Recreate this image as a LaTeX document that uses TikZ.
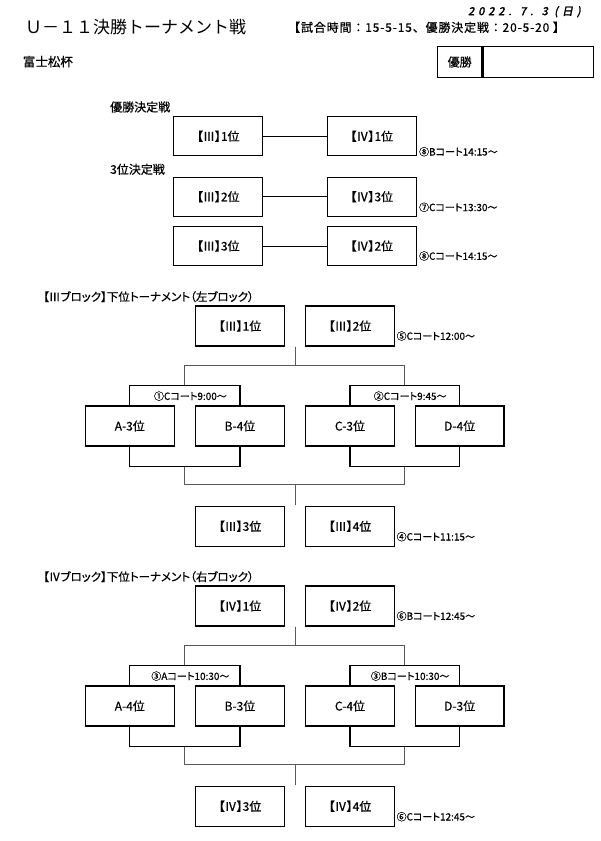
\documentclass[tikz,border=0pt]{standalone}
\usepackage{fontspec}
\setmainfont[RawFeature={+palt},FakeBold=0.6]{Noto Sans CJK JP}
\newfontfamily\jfull{Noto Sans CJK JP}
\newfontfamily\jsub[LetterSpace=7,FakeBold=0.5]{Noto Sans CJK JP}
\newfontfamily\datefont[FakeSlant=0.2,FakeBold=2.5,LetterSpace=36]{Noto Sans CJK JP}
\usetikzlibrary{calc}
\tikzset{
  box/.style={draw, line width=1.2pt, minimum width=88.6pt, minimum height=40pt, inner sep=0pt, font=\fontsize{12}{14}\selectfont},
  fbox/.style={box, minimum width=89pt, minimum height=39pt},
  br/.style={line width=1.2pt, draw=black},
  gl/.style={line width=0.9pt, draw=black!65},
  tl/.style={line width=0.9pt, draw=black},
  lbl/.style={anchor=west, inner sep=0pt, font=\fontsize{12}{14}\selectfont},
  court/.style={anchor=west, inner sep=0pt, font=\fontsize{10}{12}\selectfont}
}
\begin{document}
\begin{tikzpicture}[x=1pt,y=-1pt]
\fill[white] (0,0) rectangle (600,841);
\useasboundingbox (0,0) rectangle (600,841);
% header
\node[anchor=west, inner sep=0pt, font=\jfull\fontsize{17}{19}\selectfont] (title) at (25,27.3) {Ｕ－１１決勝トーナメント戦};
\node[anchor=west, inner sep=0pt, font=\jsub\fontsize{12}{14}\selectfont] (sub) at (288,27.3) {【試合時間：15-5-15、優勝決定戦：20-5-20 】};
\node[anchor=west, inner sep=0pt, font=\datefont\fontsize{11}{13}\selectfont] (date) at (468,11.7) {2022. 7. 3 (日)};
\node[anchor=west, inner sep=0pt, font=\fontsize{12.5}{14}\selectfont] (cup) at (22.7,61.7) {富士松杯};
\node[draw, line width=1.2pt, minimum width=44pt, minimum height=30.6pt, inner sep=0pt, font=\fontsize{12}{14}\selectfont] (win) at (459.7,62) {優勝};
\node[draw, line width=1.2pt, minimum width=110.6pt, minimum height=30.6pt, inner sep=0pt, anchor=west] (winv) at (win.east) {};
% finals
\node[lbl] (lw) at (110,107) {優勝決定戦};
\node[lbl] (l3) at (110,169.3) {3位決定戦};
\node[fbox] (f1) at (218.3,136.2) {【Ⅲ】1位};
\node[fbox] (f2) at (371.8,136.2) {【Ⅳ】1位};
\node[fbox] (s1) at (218.3,196.7) {【Ⅲ】2位};
\node[fbox] (s2) at (371.8,196.7) {【Ⅳ】3位};
\node[fbox] (r1) at (218.3,246) {【Ⅲ】3位};
\node[fbox] (r2) at (371.8,246) {【Ⅳ】2位};
\draw[tl] (f1) -- (f2);
\draw[tl] (s1) -- (s2);
\draw[tl] (r1) -- (r2);
\node[court] (c8b) at ($(f2.east)+(2,15.5)$) {⑧Bコート14:15～};
\node[court] (c7) at ($(s2.east)+(2,10.6)$) {⑦Cコート13:30～};
\node[court] (c8c) at ($(r2.east)+(2,10)$) {⑧Cコート14:15～};
% block III
\node[lbl, font=\fontsize{11.5}{14}\selectfont] (lIII) at (43,296.7) {【Ⅲブロック】下位トーナメント（左ブロック）};
\node[box] (IIIt1) at (240,326) {【Ⅲ】1位};
\node[box] (IIIt2) at (350,326) {【Ⅲ】2位};
\node[box] (IIIA) at (129.8,426) {A-3位};
\node[box] (IIIB) at (240,426) {B-4位};
\node[box] (IIIC) at (350,426) {C-3位};
\node[box] (IIID) at (459.7,426) {D-4位};
\node[box] (IIIb1) at (240,526.3) {【Ⅲ】3位};
\node[box] (IIIb2) at (350,526.3) {【Ⅲ】4位};
\draw[br] (IIIA.north) -- ++(0,-20) -| (IIIB.north);
\draw[br] (IIIC.north) -- ++(0,-20) -| (IIID.north);
\draw[br] (IIIA.south) -- ++(0,20) -| (IIIB.south);
\draw[br] (IIIC.south) -- ++(0,20) -| (IIID.south);
\coordinate (IIIL) at ($(IIIA.north)!0.5!(IIIB.north)+(0,-20)$);
\coordinate (IIIR) at ($(IIIC.north)!0.5!(IIID.north)+(0,-20)$);
\coordinate (IIIT) at ($(IIIt1.south east)!0.5!(IIIt2.south west)$);
\draw[gl] (IIIT) -- ++(0,19.3) coordinate (IIIj);
\draw[gl] (IIIL) |- (IIIj) -| (IIIR);
\coordinate (IIIL2) at ($(IIIA.south)!0.5!(IIIB.south)+(0,20)$);
\coordinate (IIIR2) at ($(IIIC.south)!0.5!(IIID.south)+(0,20)$);
\coordinate (IIIB2) at ($(IIIb1.north east)!0.5!(IIIb2.north west)+(0,-1)$);
\draw[gl] (IIIB2) -- ++(0,-20) coordinate (IIIj2);
\draw[gl] (IIIL2) |- (IIIj2) -| (IIIR2);
\node[court] (c5) at ($(IIIt2.east)+(1.5,10)$) {⑤Cコート12:00～};
\node[court, anchor=center] (c1) at ($(IIIL)+(5.5,10.7)$) {①Cコート9:00～};
\node[court, anchor=center] (c2) at ($(IIIR)+(5.3,10.7)$) {②Cコート9:45～};
\node[court] (c4) at ($(IIIb2.east)+(1.5,10.4)$) {④Cコート11:15～};
% block IV
\node[lbl, font=\fontsize{11.5}{14}\selectfont] (lIV) at (43,576.7) {【Ⅳブロック】下位トーナメント（右ブロック）};
\node[box] (IVt1) at (240,606) {【Ⅳ】1位};
\node[box] (IVt2) at (350,606) {【Ⅳ】2位};
\node[box] (IVA) at (129.8,706) {A-4位};
\node[box] (IVB) at (240,706) {B-3位};
\node[box] (IVC) at (350,706) {C-4位};
\node[box] (IVD) at (459.7,706) {D-3位};
\node[box] (IVb1) at (240,806.3) {【Ⅳ】3位};
\node[box] (IVb2) at (350,806.3) {【Ⅳ】4位};
\draw[br] (IVA.north) -- ++(0,-20) -| (IVB.north);
\draw[br] (IVC.north) -- ++(0,-20) -| (IVD.north);
\draw[br] (IVA.south) -- ++(0,20) -| (IVB.south);
\draw[br] (IVC.south) -- ++(0,20) -| (IVD.south);
\coordinate (IVL) at ($(IVA.north)!0.5!(IVB.north)+(0,-20)$);
\coordinate (IVR) at ($(IVC.north)!0.5!(IVD.north)+(0,-20)$);
\coordinate (IVT) at ($(IVt1.south east)!0.5!(IVt2.south west)$);
\draw[gl] (IVT) -- ++(0,19.3) coordinate (IVj);
\draw[gl] (IVL) |- (IVj) -| (IVR);
\coordinate (IVL2) at ($(IVA.south)!0.5!(IVB.south)+(0,20)$);
\coordinate (IVR2) at ($(IVC.south)!0.5!(IVD.south)+(0,20)$);
\coordinate (IVB2) at ($(IVb1.north east)!0.5!(IVb2.north west)+(0,-1)$);
\draw[gl] (IVB2) -- ++(0,-20) coordinate (IVj2);
\draw[gl] (IVL2) |- (IVj2) -| (IVR2);
\node[court] (c6b) at ($(IVt2.east)+(1.5,10)$) {⑥Bコート12:45～};
\node[court, anchor=center] (c3a) at ($(IVL)+(5.5,10.7)$) {③Aコート10:30～};
\node[court, anchor=center] (c3b) at ($(IVR)+(5.3,10.7)$) {③Bコート10:30～};
\node[court] (c6c) at ($(IVb2.east)+(1.5,10.4)$) {⑥Cコート12:45～};
\end{tikzpicture}
\end{document}
